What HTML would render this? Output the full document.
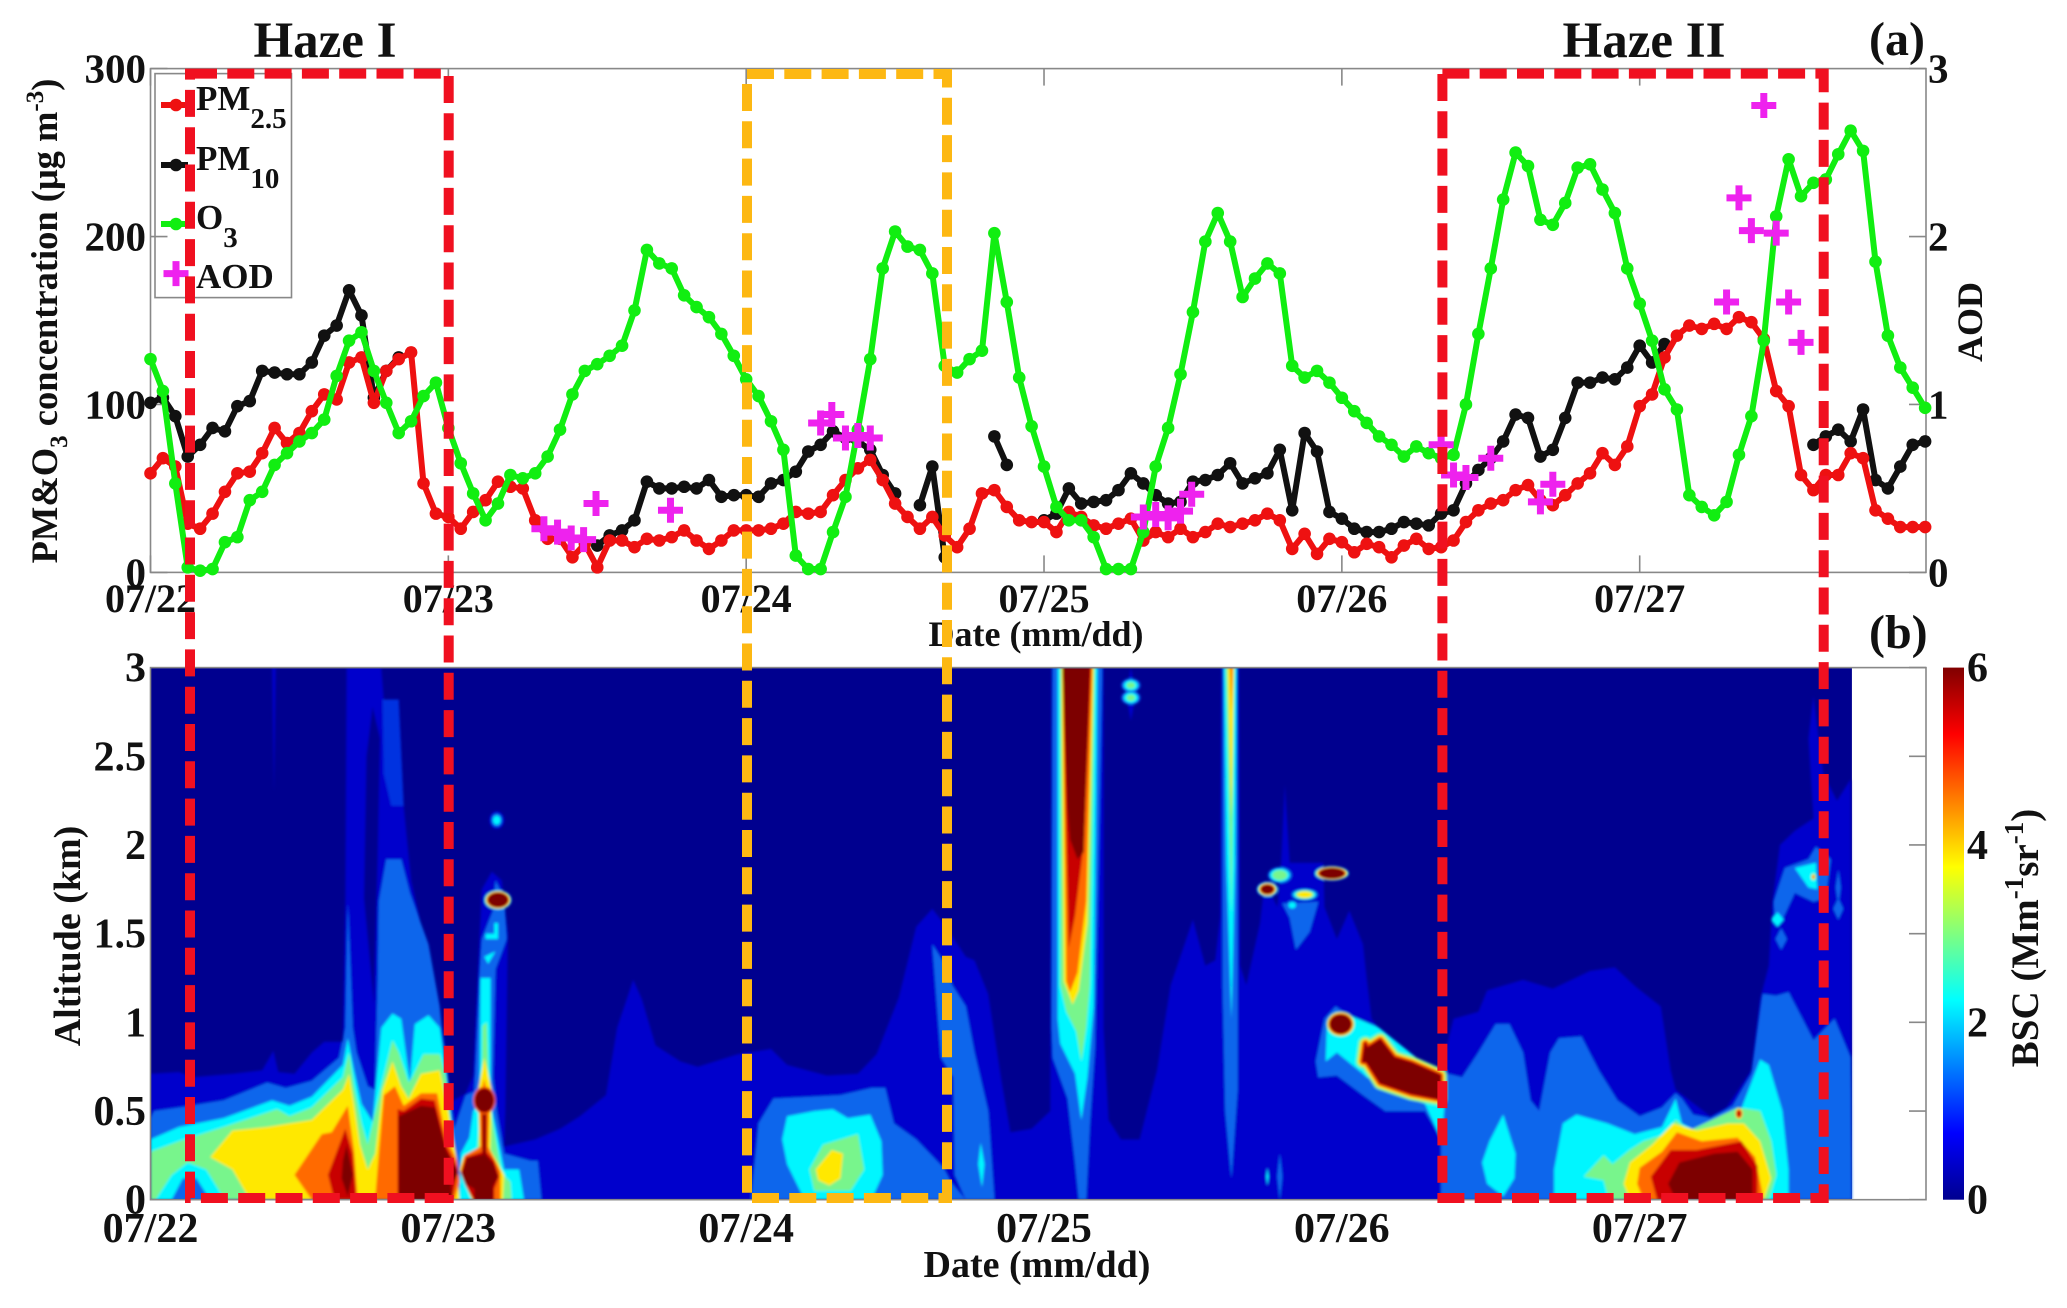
<!DOCTYPE html>
<html lang="en">
<head>
<meta charset="utf-8">
<title>PM, O3, AOD and BSC time series</title>
<style>
html,body{margin:0;padding:0;background:#fff;}
svg{display:block;}
text{font-family:"Liberation Serif",serif;font-weight:bold;fill:#111;}
</style>
</head>
<body>
<svg id="chart" xmlns="http://www.w3.org/2000/svg" width="2067" height="1308" viewBox="0 0 2067 1308">
<defs>
<linearGradient id="jet" x1="0" y1="0" x2="0" y2="1">
<stop offset="0" stop-color="#800000"/><stop offset="0.125" stop-color="#ff0000"/><stop offset="0.375" stop-color="#ffff00"/><stop offset="0.625" stop-color="#00ffff"/><stop offset="0.875" stop-color="#0000ff"/><stop offset="1" stop-color="#00008f"/>
</linearGradient>
<filter id="soft" x="-2%" y="-2%" width="104%" height="104%"><feGaussianBlur stdDeviation="1.3"/></filter>
<clipPath id="panelClip"><rect x="150.5" y="667.6" width="1775.5" height="532.1"/></clipPath>
</defs>
<g id="panelB"></g>
<g id="panelA"></g>
<g id="legend"></g>
<g id="labels"></g>
<text x="325" y="57" font-size="51" text-anchor="middle">Haze I</text>
<text x="1644" y="57" font-size="51" text-anchor="middle">Haze II</text>
<text x="1869" y="55" font-size="48">(a)</text>
<text x="1869" y="648" font-size="48">(b)</text>
<text x="1036" y="646" font-size="36" text-anchor="middle">Date (mm/dd)</text>
<text x="1037" y="1277" font-size="38" text-anchor="middle">Date (mm/dd)</text>
<text transform="translate(57 321) rotate(-90)" font-size="36.5" text-anchor="middle">PM&amp;O<tspan font-size="25" dy="10">3</tspan><tspan dy="-10"> concentration (μg m</tspan><tspan font-size="25" dy="-14">-3</tspan><tspan dy="14">)</tspan></text>
<text transform="translate(1982 322) rotate(-90)" font-size="36" text-anchor="middle">AOD</text>
<text transform="translate(80 936) rotate(-90)" font-size="38" text-anchor="middle">Altitude (km)</text>
<text transform="translate(2038 938) rotate(-90)" font-size="39" text-anchor="middle">BSC (Mm<tspan font-size="27" dy="-15">-1</tspan><tspan dy="15">sr</tspan><tspan font-size="27" dy="-15">-1</tspan><tspan dy="15">)</tspan></text>
<g id="boxes"></g>
</svg>
<script>
var n = null;
var dayTicks = [0, 24, 48, 72, 96, 120];
var dayLabels = ['07/22', '07/23', '07/24', '07/25', '07/26', '07/27'];
var concTicks = [0, 100, 200, 300];
var aodTicks = [0, 1, 2, 3];
var altTicks = [0, 0.5, 1, 1.5, 2, 2.5, 3];
var bscTicks = [0, 2, 4, 6];

var pm25 = [59,68,63,29,26,35,48,59,60,71,
86,77,83,96,106,103,125,128,101,120,
127,131,53,35,33,26,36,43,54,51,
50,31,20,20,9,17,3,19,19,15,
20,19,21,25,19,14,19,25,25,25,
26,29,36,35,36,46,55,62,67,55,
41,33,26,33,22,15,26,47,49,39,
31,30,30,24,36,33,28,26,29,32,
19,24,21,26,21,24,29,27,29,31,
35,31,14,23,11,20,18,12,17,15,
9,16,20,14,15,19,30,37,41,43,
49,52,43,40,46,53,59,71,64,75,
99,106,128,141,147,145,148,145,152,149,
139,108,99,58,49,58,58,71,68,37,
32,27,27,27];
var pm10 = [101,104,93,69,76,86,84,99,102,120,
119,118,118,125,141,147,168,153,104,120,
128,n,n,n,n,n,n,n,n,n,
n,n,n,n,n,n,16,22,25,31,
54,50,50,51,50,55,45,46,46,45,
53,55,60,72,76,84,80,78,73,58,
47,n,40,63,9,n,n,n,81,64,
n,n,31,35,50,41,42,43,49,59,
53,46,41,42,54,55,58,65,53,56,
59,73,37,83,72,36,32,26,24,24,
26,30,29,28,35,37,53,61,68,78,
94,92,69,73,92,113,113,116,115,122,
135,125,136,n,n,n,n,n,n,n,
n,n,n,n,76,81,85,78,97,55,
50,63,76,78];
var o3 = [127,108,53,3,1,2,18,21,43,48,
64,71,78,83,91,117,138,143,120,101,
83,90,105,113,86,65,47,31,41,58,
56,59,69,85,106,120,124,129,135,156,
192,184,181,165,158,152,142,129,115,105,
90,73,10,2,2,24,45,85,127,181,
203,194,192,178,123,119,127,132,202,161,
116,87,63,39,31,31,21,2,2,2,
24,63,86,118,155,197,214,197,164,175,
184,178,123,116,120,113,104,96,89,81,
76,69,75,71,68,70,100,142,181,222,
250,242,210,207,220,241,243,228,214,181,
160,138,109,97,46,39,34,42,70,93,
138,212,246,224,232,234,249,263,251,185,
141,122,110,98];
var aodHours = [31.7,32.8,33.9,34.9,35.9,41.9,54,54.9,56,57,58,80,81,82,83,83.9,104,105,106,108,112,113,127,128,129,130,131,132,133];
var aodValues = [0.26,0.24,0.205,0.195,0.41,0.37,0.89,0.94,0.80,0.815,0.80,0.33,0.345,0.325,0.365,0.465,0.76,0.58,0.565,0.68,0.42,0.525,1.61,2.23,2.035,2.78,2.02,1.61,1.37];

/* BSC filled contours: [band, [hour, km, hour, km, ...]] painted in order */
var contourBands = ['#00008f','#0000cc','#0a66ec','#00f6ff','#78f58c','#ffe800','#ff6a00','#c80000','#7d0000','#0030e0'];
var contourShapes = [
[1,[0,.71,2.3,.72,3.3,.69,6.6,.71,9,.73,9.9,.84,10.3,.72,11.6,.71,13,.83,14,.89,15.5,.89,15.7,1.68,15.8,3,18.6,3,18.8,2.82,20,2.82,20.4,2.22,21,1.8,22.9,1.2,23.8,.85,24.2,.55,25.4,.6,26,.7,26.4,1.3,26.7,1.75,27.5,1.85,28.3,1.8,28.8,1.5,28.6,.5,28.5,.3,31,.34,33,.40,34.6,.47,36.7,.59,37.6,.97,38.9,1.24,39.6,1.13,40.7,.87,42.7,.78,44.1,.75,47.3,.82,50,.85,51.3,.76,54.5,.70,57,.71,58.5,.82,60.3,1.14,61.7,1.54,63,1.64,63.9,1.56,65.7,1.37,66.4,1.35,67.5,1.16,68.6,.66,69.3,.38,71,.40,72.5,.50,72.6,3,76.8,3,76.8,.97,77.2,.45,78.2,.34,79.7,.34,81.1,.73,82.2,1.21,84,1.58,85,1.32,85.8,1.35,86.2,1.6,86.3,3,87.7,3,87.8,1.32,88.3,1.21,89.4,1.56,89.8,1.8,90.8,1.65,91.1,1.9,91.4,2.34,91.8,1.9,94.5,1.9,94.6,1.65,95.6,1.47,96.6,1.63,97.7,1.44,98,1.25,98.4,1.02,99.5,.92,103.8,.71,104.5,.88,105,1.02,107,1.06,107.7,1.18,110.6,1.24,113,1.19,116,1.29,118,1.31,119.7,1.2,121.7,1.09,122.5,.73,122.9,.62,125.7,.47,127,.52,129,.73,129.7,1.13,130.4,1.32,130.7,1.68,131.3,2.0,132.5,2.08,134,2.15,133.6,2.6,134,2.84,134.8,2.4,135.9,2.25,137,2.37,137.1,0,0,0]],
[1,[9.8,3,9.95,2.3,10.1,3]],
[1,[78.6,2.85,79,3,79.4,2.85,79,2.7]],
[0,[17.4,2.5,17.9,2.78,18.5,2.6,18.3,1.9,18,1.1,17.2,1.7]],
[9,[18.7,2.82,20,2.82,20.4,2.22,19.4,2.22,18.8,2.4]],
[2,[0,.46,.3,.5,2.3,.52,5.9,.56,9.4,.66,10.9,.63,13,.67,15.2,.80,15.7,.97,15.9,1.68,16.3,.97,16.6,.83,17.5,.64,18.1,.62,18.3,1.21,18.4,1.68,19,1.92,20.2,1.92,20.9,1.73,22.4,1.44,23.3,1.09,23.8,.73,24.5,.40,25.4,.59,26.1,.61,26.5,1.25,26.7,1.47,27.6,1.63,27.8,1.8,28.5,1.7,28.7,1.47,27.8,1.3,27.6,.69,27.9,.5,28.5,.26,30.6,.22,31.2,.22,31.5,0,0,0]],
[3,[0,.34,2.3,.41,5.9,.46,9.8,.56,11.2,.53,13,.58,15.5,.76,15.9,.91,16.4,.73,17,.54,17.9,.44,18.6,.97,19.5,1.05,20.2,1.02,20.9,.66,21.3,.99,22.4,1.04,23.3,.97,23.8,.73,24.5,.28,24.9,0,0,0]],
[3,[26.5,.55,26.6,1.25,27.4,1.25,27.4,.55,28.5,.17,29.7,.17,30.1,0,24.9,0,25,.26,25.7,.35,26,.5]],
[3,[26.9,1.37,27.8,1.4,27.2,1.33]],
[3,[27,1.47,28,1.47,28,1.56,27.7,1.56,27.7,1.5,27,1.5]],
[4,[0,.27,2.3,.33,5.9,.41,10.2,.51,11.2,.47,13,.52,15.5,.69,16,.83,16.4,.64,17,.43,17.5,.31,18.6,.64,19.5,.90,20,.83,20.8,.66,21.1,.69,22,.82,23.3,.82,23.8,.69,24.5,.24,24.9,0,0,0]],
[5,[4.8,.24,6.6,.39,9.4,.41,11.2,.43,13,.45,15.5,.62,16,.71,16.4,.54,16.9,.31,17.5,.17,18.1,.26,18.7,.62,19.5,.78,20.2,.64,20.8,.57,21.8,.71,23.3,.73,24,.5,24.7,.22,24.9,0,8,0,6.6,.17]],
[3,[.4,0,1.7,.14,3,.21,4.5,.17,6,0]],
[2,[1.7,0,2.6,.12,3.7,.12,4.8,0]],
[4,[26.7,.55,26.75,.98,27.1,1,27.3,.55,28.3,.15,29,.1,29.1,0,25.9,0]],
[5,[24.9,.17,25.2,.24,26.5,.28,26.4,.62,26.9,.8,27.5,.62,27.4,.28,28.5,.14,28.4,0,25.9,0,25.4,.08]],
[6,[11.6,.14,13.8,.37,14.6,.38,15.9,.53,16.4,.28,16.7,0,13,0]],
[6,[18.1,0,18.4,.26,18.8,.59,19.7,.64,20.4,.53,21.8,.60,23.1,.60,23.8,.35,24.7,.22,24.9,.1,24.5,0]],
[6,[25,.16,25.3,.25,26.6,.3,26.5,.55,26.9,.68,27.3,.55,27.2,.3,28.2,.16,28.2,0,26,0,25.6,.06]],
[7,[14.3,.14,15.7,.40,16.3,.26,16.6,0,14.8,0]],
[7,[19.9,0,19.9,.51,20.4,.50,21.8,.57,22.9,.56,23.8,.31,24.8,.17,24.3,0]],
[7,[25,.15,25.4,.24,26.7,.27,26.7,.6,27.1,.6,27.1,.27,27.7,.22,28.1,.13,27.7,.06,27.7,0,26,0,25.4,.08]],
[8,[15.5,.22,15.8,.31,16.3,.14,15.9,.02,15.4,.12]],
[8,[20,0,20,.47,21.8,.53,22.9,.52,23.8,.28,24.8,.15,24.2,.09,24.3,0]],
[8,[25.1,.15,25.5,.235,26.8,.254,26.8,.5,27,.5,27,.254,27.6,.207,28,.13,27.6,.075,27.6,0,26.1,0,26.1,.06,25.4,.09]],
[2,[48.4,0,49,.43,50.2,.57,53.2,.58,55.6,.59,58.1,.63,59.2,.63,59.9,.43,61.7,.34,63.9,.18,64.5,.1,65.7,0]],
[2,[63,1.44,63.9,1.34,64.6,1.21,65.7,1.09,66.4,.83,67.5,.50,68,0,65.7,0,64.8,.14,64.7,.69,63.7,.80]],
[3,[66.7,.2,66.9,.32,67.2,.2,67,.07]],
[3,[50.9,.34,51.3,.47,53.5,.50,55,.51,56.2,.46,58,.48,58.9,.33,59,.14,58.1,0,52.7,0,51.3,.20]],
[4,[53.1,.17,54.2,.31,57,.37,57.5,.17,56.4,.05,53.5,.05]],
[5,[53.6,.17,54.9,.28,55.8,.26,55.6,.12,54.7,.08,53.8,.11]],
[2,[72.7,3,72.6,.97,72.7,.80,73.9,.57,74.5,.21,74.8,0,75.4,0,75.7,.43,76.1,.85,76.7,3]],
[3,[73.1,3,73.1,1.02,73.3,.88,74.5,.71,75,.45,75.5,.69,76,1.09,76.3,3]],
[4,[73.3,3,73.3,1.21,73.8,1.06,74.6,.95,75,.78,75.4,.97,75.7,1.21,76.1,3]],
[5,[73.4,3,73.6,1.23,74.3,1.10,74.8,1.18,75.5,1.56,76,3]],
[6,[73.5,3,73.8,1.23,74.1,1.17,74.7,1.28,75.4,1.68,75.9,3]],
[7,[73.5,3,74,1.42,74.5,1.6,75.2,2,75.8,3]],
[8,[73.5,3,73.9,2.2,74.1,2.03,74.7,1.92,75.2,1.96,75.7,3]],
[2,[86.4,3,86.4,1.2,86.6,.5,87.1,.12,87.6,.62,87.6,3]],
[3,[86.5,3,86.7,1.9,87.1,1.02,87.4,1.9,87.5,3]],
[4,[86.65,3,87.1,1.6,87.35,3]],
[5,[86.8,3,87.1,2.15,87.3,3]],
[6,[87,3,87.1,2.75,87.2,3]],
[2,[90.8,.13,91,.26,91.2,.13,91,0]],
[3,[89.9,.13,90,.18,90.1,.13,90,.08]],
[2,[91.2,1.67,94.1,1.68,93.4,1.51,92.3,1.41,91.8,1.59]],
[2,[93.9,.78,94.6,1.02,95.5,1.09,96.9,1.02,99,.97,99.5,.92,103.8,.71,105.6,.54,105.5,.45,104.3,.31,102.7,.50,99.5,.50,97.7,.59,95.6,.70,94.1,.69]],
[3,[94.7,.78,94.8,.99,95.5,1.06,96.6,1.04,99,.97,103.8,.70,105.4,.56,104.9,.43,104,.34,102.7,.54,100.9,.59,98,.69,97.7,.71,95.6,.83]],
[2,[104,.31,104.5,.71,105.7,.69,107,.83,108.4,.99,109.5,.99,110.6,.83,111.2,.56,111.9,.50,112.8,.83,113.5,.91,115.3,.92,116.7,.73,118.2,.56,120,.47,121.8,.52,122.9,.60,123.4,.57,124.3,.48,125.7,.46,127.5,.53,129,.71,129.9,1.16,131,1.15,132,1.17,134,.90,135.7,1.02,137,.80,137.1,0,104,0]],
[2,[130.8,1.68,131.7,1.87,133.6,1.92,134.2,1.99,135.4,1.92,135,1.70,134,1.68,132.5,1.73,131.5,1.58,130.9,1.58]],
[2,[130.95,1.47,131.4,1.53,131.85,1.47,131.4,1.41]],
[2,[135.6,1.64,136,1.7,136.4,1.64,136,1.58]],
[2,[135.8,1.76,136,1.86,136.2,1.76,136,1.66]],
[3,[132.5,1.87,134.2,1.9,134.3,1.75,133.6,1.76]],
[3,[130.6,1.58,131.1,1.62,131.6,1.58,131.1,1.54]],
[3,[109,.48,110,.26,109.9,.12,109,.02,107.7,.09,107.3,.21,107.9,.33]],
[3,[113.1,0,113.1,.17,113.8,.43,114.9,.48,117.4,.43,119.6,.37,121.8,.41,122.9,.57,123.4,.43,124.5,.39,126.8,.43,127.9,.46,129.7,.79,130.4,.76,131.5,.50,132,.17,132,0]],
[4,[115.5,.13,117.1,.25,117.8,.20,119.2,.28,120.3,.33,122.1,.37,122.9,.45,124,.39,127.9,.52,129.7,.50,130.6,.33,131,.14,130.4,0,117.5,0,117.1,.11]],
[5,[118.7,.09,119.2,.21,121,.31,122.7,.43,124.6,.39,127.1,.43,128.4,.43,129.7,.33,130.6,.12,130,0,119.2,0]],
[6,[119.8,.09,120,.18,121.8,.27,123,.38,125,.33,127.9,.35,129.3,.24,130,0,120.3,0]],
[7,[120.9,.13,122.5,.28,124.6,.28,128.2,.33,129.5,.19,129.5,0,121.4,0]],
[8,[122.3,.09,123.2,.21,126,.26,127.9,.27,129.1,.17,129.1,0,122.9,0]]
];
/* diagonal plume on 07/26: outline, painted with ringed bands */
var plumeOutline = [98,.85,99.1,.90,100.2,.80,101.6,.77,103.9,.70,103.9,.57,101.6,.6,99.1,.66,98,.78,97.7,.78,97.9,.88];
var plumeRingBands = [4,5,6,7,8];
/* isolated blobs: hour, km, half-width (h), half-height (km), lowest band, top band, ring growth */
var blobHours = [27.9,28,26.9,79,79,90,91,93,95.2,92,95.9,128,134];
var blobKm = [2.14,1.69,.56,2.9,2.83,1.75,1.83,1.72,1.84,1.66,.99,.485,1.82];
var blobRh = [.3,.8,.74,.35,.35,.5,.6,.6,1,.3,.85,.2,.1];
var blobRkm = [.025,.04,.065,.018,.018,.025,.028,.018,.03,.018,.053,.02,.01];
var blobBase = [1,3,6,2,2,2,2,2,3,2,4,5,4];
var blobTop = [3,8,8,4,4,8,4,5,8,3,8,7,6];
var blobGrowth = [.5,.07,.1,.6,.6,.12,.3,.25,.07,.5,.08,.25,.5];

var svgNS = 'http://www.w3.org/2000/svg';
function make(tag, attrs, parent) {
  var el = document.createElementNS(svgNS, tag);
  for (var k in attrs) { el.setAttribute(k, attrs[k]); }
  parent.appendChild(el);
  return el;
}
var ax = {left:150.5, right:1926, hourPx:12.41, aTop:68.6, aBottom:572.4, bTop:667.6, bBottom:1199.7, cbLeft:1943, cbRight:1964};
function xH(h) { return ax.left + h * ax.hourPx; }
function yConc(v) { return ax.aBottom - v / 300 * (ax.aBottom - ax.aTop); }
function yAod(v) { return ax.aBottom - v / 3 * (ax.aBottom - ax.aTop); }
function yKm(k) { return ax.bBottom - k / 3 * (ax.bBottom - ax.bTop); }
function yBsc(b) { return ax.bBottom - b / 6 * (ax.bBottom - ax.bTop); }
function pts(flat) {
  var out = [];
  for (var i = 0; i < flat.length; i += 2) { out.push(xH(flat[i]).toFixed(1) + ',' + yKm(flat[i + 1]).toFixed(1)); }
  return out.join(' ');
}
var panelA = document.getElementById('panelA');
var panelB = document.getElementById('panelB');
var boxes = document.getElementById('boxes');
var legend = document.getElementById('legend');
var labels = document.getElementById('labels');
var AX = '#888888';

/* ---- panel b ---- */
var bg = make('rect', {x:ax.left, y:ax.bTop, width:xH(137.1) - ax.left, height:ax.bBottom - ax.bTop, fill:contourBands[0]}, panelB);


var clipG = make('g', {'clip-path':'url(#panelClip)'}, panelB);


var softG = make('g', {filter:'url(#soft)'}, clipG);


contourShapes.forEach(function (s) {
  var p = make('polygon', {points:pts(s[1]), fill:contourBands[s[0]]}, softG);
  
  
});
var ringW = [14, 10, 7, 4, 1];
plumeRingBands.forEach(function (b, i) {
  var p = make('polygon', {points:pts(plumeOutline), fill:contourBands[b], stroke:contourBands[b], 'stroke-width':ringW[i], 'stroke-linejoin':'round'}, softG);
  
  
});
blobHours.forEach(function (h, i) {
  for (var l = blobBase[i]; l <= blobTop[i]; l++) {
    var f = 1 + (blobTop[i] - l) * blobGrowth[i];
    var e = make('ellipse', {cx:xH(h), cy:yKm(blobKm[i]), rx:blobRh[i] * ax.hourPx * f, ry:blobRkm[i] * (ax.bBottom - ax.bTop) / 3 * f, fill:contourBands[l]}, softG);
    
    
  }
});
var frameB = make('rect', {x:ax.left, y:ax.bTop, width:ax.right - ax.left, height:ax.bBottom - ax.bTop, fill:'none', stroke:AX, 'stroke-width':1.6}, panelB);


altTicks.forEach(function (k) {
  var y = yKm(k);
  var t = make('line', {x1:ax.right - 17, x2:ax.right, y1:y, y2:y, stroke:AX, 'stroke-width':1.6}, panelB);
  
  
  var lab = make('text', {x:146, y:y + 14, 'font-size':42, 'text-anchor':'end'}, labels);
  lab.textContent = String(k);
  
  
});
dayTicks.forEach(function (h, i) {
  var lab = make('text', {x:xH(h), y:1242, 'font-size':42, 'text-anchor':'middle'}, labels);
  lab.textContent = dayLabels[i];
  
  
  var lab2 = make('text', {x:xH(h), y:612, 'font-size':40, 'text-anchor':'middle'}, labels);
  lab2.textContent = dayLabels[i];
  
  
});
var cb = make('rect', {x:ax.cbLeft, y:ax.bTop, width:ax.cbRight - ax.cbLeft, height:ax.bBottom - ax.bTop, fill:'url(#jet)'}, panelB);


bscTicks.forEach(function (b) {
  var lab = make('text', {x:1967, y:yBsc(b) + 14, 'font-size':42}, labels);
  lab.textContent = String(b);
  
  
});

/* ---- panel a ---- */
var frameA = make('rect', {x:ax.left, y:ax.aTop, width:ax.right - ax.left, height:ax.aBottom - ax.aTop, fill:'none', stroke:AX, 'stroke-width':1.6}, panelA);


dayTicks.forEach(function (h) {
  var x = xH(h);
  var t1 = make('line', {x1:x, x2:x, y1:ax.aBottom, y2:ax.aBottom - 17, stroke:AX, 'stroke-width':1.6}, panelA);
  
  
  var t2 = make('line', {x1:x, x2:x, y1:ax.aTop, y2:ax.aTop + 17, stroke:AX, 'stroke-width':1.6}, panelA);
  
  
});
concTicks.forEach(function (v) {
  var y = yConc(v);
  var t = make('line', {x1:ax.left, x2:ax.left + 17, y1:y, y2:y, stroke:AX, 'stroke-width':1.6}, panelA);
  
  
  var lab = make('text', {x:146, y:y + 14, 'font-size':41, 'text-anchor':'end'}, labels);
  lab.textContent = String(v);
  
  
});
aodTicks.forEach(function (v) {
  var y = yAod(v);
  var t = make('line', {x1:ax.right - 17, x2:ax.right, y1:y, y2:y, stroke:AX, 'stroke-width':1.6}, panelA);
  
  
  var lab = make('text', {x:1928, y:y + 14, 'font-size':41}, labels);
  lab.textContent = String(v);
  
  
});
function drawSeries(values, color, name) {
  var seg = [];
  var flush = function () {
    if (seg.length > 1) {
      var line = make('polyline', {points:seg.join(' '), fill:'none', stroke:color, 'stroke-width':6, 'stroke-linejoin':'round'}, panelA);
      
      
    }
    seg = [];
  };
  values.forEach(function (v, h) {
    if (v === null) { flush(); } else { seg.push(xH(h).toFixed(1) + ',' + yConc(v).toFixed(1)); }
  });
  flush();
  values.forEach(function (v, h) {
    if (v !== null) {
      var c = make('circle', {cx:xH(h), cy:yConc(v), r:6.3, fill:color}, panelA);
      
      
    }
  });
}
drawSeries(pm10, '#111111', 'pm10');
drawSeries(pm25, '#ee1111', 'pm25');
drawSeries(o3, '#11ee11', 'o3');
function plus(cx, cy, parent, name) {
  var g = make('path', {d:'M' + (cx - 12.5) + ' ' + cy + 'H' + (cx + 12.5) + 'M' + cx + ' ' + (cy - 12.5) + 'V' + (cy + 12.5), stroke:'#ee22ee', 'stroke-width':7, fill:'none'}, parent);
  
  
}
aodHours.forEach(function (h, i) { plus(xH(h), yAod(aodValues[i]), panelA, 'aod-point'); });

/* ---- legend ---- */
var lb = make('rect', {x:155, y:73.6, width:136.5, height:224, fill:'none', stroke:AX, 'stroke-width':1.6}, legend);


function legendLine(y, color, name) {
  var l = make('line', {x1:161, x2:188, y1:y, y2:y, stroke:color, 'stroke-width':6}, legend);
  
  
  var c = make('circle', {cx:176, cy:y, r:6.3, fill:color}, legend);
  
  
}
function legendText(y, main, sub, name) {
  var t = make('text', {x:196, y:y, 'font-size':35}, legend);
  t.appendChild(document.createTextNode(main));
  if (sub) {
    var s = make('tspan', {'font-size':29, dy:18}, t);
    s.textContent = sub;
  }
  
  
}
legendLine(105, '#ee1111', 'pm25'); legendText(110, 'PM', '2.5', 'pm25');
legendLine(165, '#111111', 'pm10'); legendText(170, 'PM', '10', 'pm10');
legendLine(224, '#11ee11', 'o3'); legendText(229, 'O', '3', 'o3');
plus(176, 273.6, legend, 'aod-legend-marker'); legendText(288, 'AOD', '', 'aod');

/* ---- dashed haze boxes ---- */
function dashedBox(x0, x1, y0, y1, color, name) {
  var d = 'M' + x0 + ' ' + y0 + 'H' + x1 + 'V' + y1 + 'H' + x0 + 'Z';
  var p = make('path', {d:d, fill:'none', stroke:color, 'stroke-width':10, 'stroke-dasharray':'27 10.3'}, boxes);
  
  
}
dashedBox(190, 448.7, 73.6, 1198, '#f01020', 'haze-i-box');
dashedBox(747, 947, 74, 1198, '#fdb813', 'clean-period-box');
dashedBox(1442.4, 1823.7, 73.6, 1198, '#f01020', 'haze-ii-box');
</script>
</body>
</html>
